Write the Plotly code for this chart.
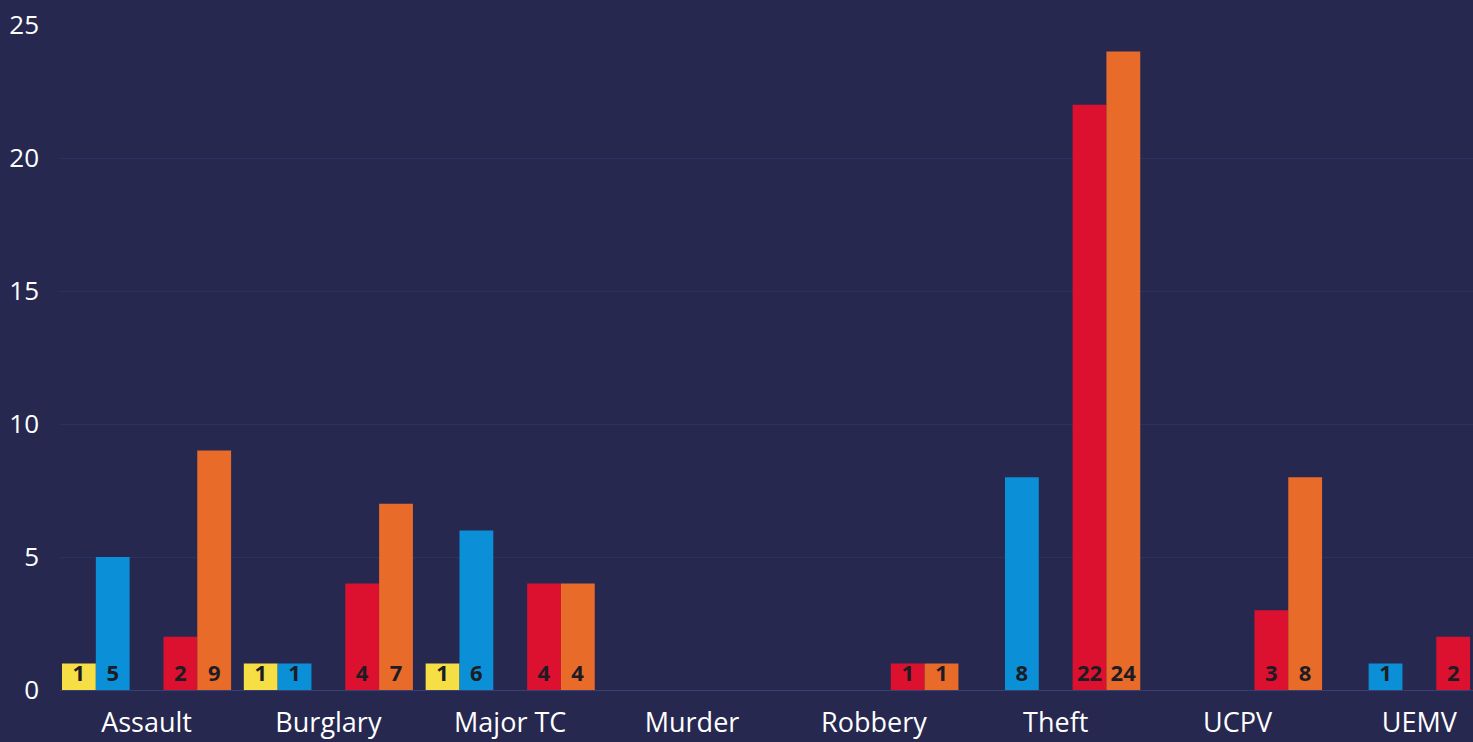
import plotly.graph_objects as go

categories = ["Assault", "Burglary", "Major TC", "Murder", "Robbery", "Theft", "UCPV", "UEMV"]
yellow_vals = [1, 1, 1, 0, 0, 0, 0, 0]
blue_vals = [5, 1, 6, 0, 0, 8, 0, 1]
hidden_vals = [0, 0, 0, 0, 0, 0, 0, 0]
red_vals = [2, 4, 4, 0, 1, 22, 3, 2]
orange_vals = [9, 7, 4, 0, 1, 24, 8, 0]
y_ticks = [0, 5, 10, 15, 20, 25]

series = [
    ("Series 1", yellow_vals, "#f6df45"),
    ("Series 2", blue_vals, "#0b8fd6"),
    ("Series 3", hidden_vals, "#7a5fc0"),
    ("Series 4", red_vals, "#dc112f"),
    ("Series 5", orange_vals, "#e96b2a"),
]

BG = "#262850"
fig = go.Figure()
for name, vals, color in series:
    fig.add_trace(go.Bar(
        name=name, x=categories, y=vals,
        marker=dict(color=color, line=dict(width=0)),
        text=[str(v) if v else "" for v in vals],
        textposition="inside", insidetextanchor="start", textangle=0,
        textfont=dict(family="Open Sans", size=22, color="#1c1c24", weight="bold"),
        cliponaxis=True,
    ))

fig.update_layout(
    width=1473, height=742,
    paper_bgcolor=BG, plot_bgcolor=BG,
    barmode="group", bargap=0.07, bargroupgap=0,
    showlegend=False,
    margin=dict(l=60, r=0, t=25, b=52),
    uniformtext=dict(minsize=18, mode="show"),
    font=dict(family="Open Sans", color="white"),
)
fig.update_xaxes(
    range=[-0.476, 7.295], showgrid=False, zeroline=False, showline=False,
    tickfont=dict(family="Open Sans", size=27, color="white"),
    ticks="", ticklabelstandoff=14,
)
fig.update_yaxes(
    range=[0, 25], tickvals=y_ticks, showgrid=True, gridcolor="#2a3262", gridwidth=1,
    zeroline=True, zerolinecolor="#3a4072", zerolinewidth=1, showline=False,
    tickfont=dict(family="Open Sans", size=26, color="white"),
    ticks="", ticklabelstandoff=20,
)
fig.write_html(
    "out.html",
    config={"displayModeBar": False},
    post_script="document.body.style.margin='0';document.body.style.background='" + BG + "';",
)
